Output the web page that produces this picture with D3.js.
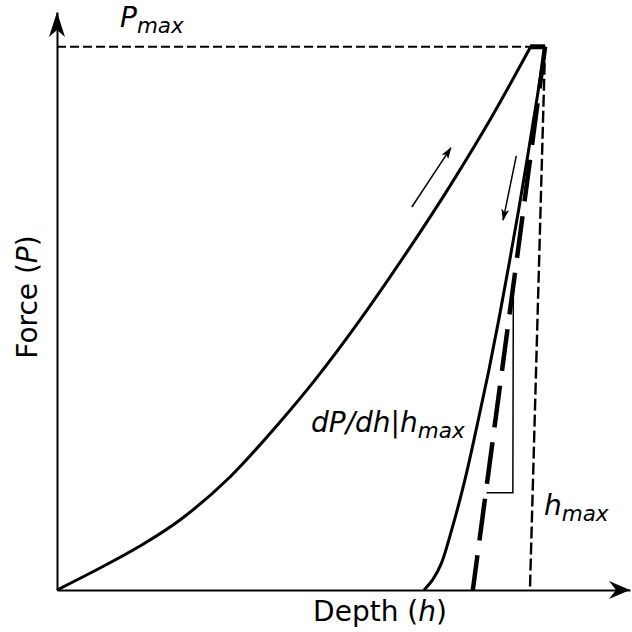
<!DOCTYPE html>
<html>
<head>
<meta charset="utf-8">
<script src="https://cdn.jsdelivr.net/npm/d3@7"></script>
<style>
  html, body { margin: 0; padding: 0; background: #fff; }
  svg { display: block; font-family: "DejaVu Sans", sans-serif; }
</style>
</head>
<body>
<svg id="chart" width="632" height="632"></svg>
<script>
// depth h and force P, both normalised so that hmax = 1 and Pmax = 1
const loadingDepth = [0, 0.0881, 0.1701, 0.2520, 0.3545, 0.4570, 0.5287, 0.6209, 0.7336, 0.8053, 0.8873, 0.9693];
const loadingForce = [0, 0.0405, 0.0810, 0.1289, 0.2081, 0.3094, 0.3867, 0.4972, 0.6446, 0.7440, 0.8656, 0.9982];
const holdDepth = [0.969, 1.0];
const holdForce = [1.0, 1.0];
const unloadingDepth = [1.0, 0.9826, 0.9645, 0.9459, 0.9262, 0.9057, 0.8838, 0.8600, 0.8350, 0.8053, 0.7879, 0.7705, 0.7520];
const unloadingForce = [1.0, 0.9, 0.8, 0.7, 0.6, 0.5, 0.4, 0.3, 0.2, 0.1, 0.05, 0.02, 0];
const tangentDepth = [1.0, 0.852];
const tangentForce = [1.0, 0];
const hmaxDepth = [1.0, 0.969];
const hmaxForce = [1.0, 0];
const pmaxDepth = [0, 1.0];
const pmaxForce = [1.0, 1.0];
const slopeDepth = [0.935, 0.934, 0.880];
const slopeForce = [0.562, 0.179, 0.179];
const loadArrowDepth = [0.727, 0.807];
const loadArrowForce = [0.705, 0.814];
const unloadArrowDepth = [0.941, 0.914];
const unloadArrowForce = [0.799, 0.681];

const svg = d3.select("#chart");
const x = d3.scaleLinear().domain([0, 1.174]).range([57, 630]);
const y = d3.scaleLinear().domain([0, 1.064]).range([590, 12]);

const line = d3.line().x((d) => x(d[0])).y((d) => y(d[1]));
const smooth = d3.line().x((d) => x(d[0])).y((d) => y(d[1])).curve(d3.curveCatmullRom.alpha(0.5));

svg.append("defs")
  .append("marker")
  .attr("id", "head")
  .attr("markerUnits", "userSpaceOnUse")
  .attr("viewBox", "0 0 12 8")
  .attr("markerWidth", 12)
  .attr("markerHeight", 8)
  .attr("refX", 11)
  .attr("refY", 4)
  .attr("orient", "auto")
  .append("path")
  .attr("d", "M0,0 L12,4 L0,8 L3,4 Z")
  .attr("fill", "#000");

// axes without ticks, arrowheads at the ends
const xAxis = svg.append("g").attr("transform", `translate(0,${y(0)})`)
  .call(d3.axisBottom(x).tickValues([]).tickSizeOuter(0));
const yAxis = svg.append("g").attr("transform", `translate(${x(0)},0)`)
  .call(d3.axisLeft(y).tickValues([]).tickSizeOuter(0));
[xAxis, yAxis].forEach((g) => g.select(".domain").attr("stroke", "#000").attr("stroke-width", 2));

const x1 = x.range()[1], y0 = y(0);
svg.append("path")
  .attr("d", `M${x1},${y0} L${x1 - 21},${y0 - 9} L${x1 - 14},${y0} L${x1 - 21},${y0 + 9} Z`)
  .attr("fill", "#000");
const yTop = y.range()[1], x0 = x(0);
svg.append("path")
  .attr("d", `M${x0},${yTop} L${x0 + 8},${yTop + 25} L${x0},${yTop + 18} L${x0 - 8},${yTop + 25} Z`)
  .attr("fill", "#000");

// reference lines
svg.append("path")
  .attr("d", line(d3.zip(pmaxDepth, pmaxForce)))
  .attr("fill", "none").attr("stroke", "#000").attr("stroke-width", 2.2)
  .attr("stroke-dasharray", "9,4");
svg.append("path")
  .attr("d", line(d3.zip(hmaxDepth, hmaxForce)))
  .attr("fill", "none").attr("stroke", "#000").attr("stroke-width", 2.4)
  .attr("stroke-dasharray", "12,4");
svg.append("path")
  .attr("d", line(d3.zip(tangentDepth, tangentForce)))
  .attr("fill", "none").attr("stroke", "#000").attr("stroke-width", 4.5)
  .attr("stroke-dasharray", "42,15");
svg.append("path")
  .attr("d", line(d3.zip(slopeDepth, slopeForce)))
  .attr("fill", "none").attr("stroke", "#000").attr("stroke-width", 1.5);

// loading, hold and unloading curves
svg.append("path")
  .attr("d", smooth(d3.zip(loadingDepth, loadingForce)))
  .attr("fill", "none").attr("stroke", "#000").attr("stroke-width", 3);
svg.append("path")
  .attr("d", line(d3.zip(holdDepth, holdForce)))
  .attr("fill", "none").attr("stroke", "#000").attr("stroke-width", 5);
svg.append("path")
  .attr("d", smooth(d3.zip(unloadingDepth, unloadingForce)))
  .attr("fill", "none").attr("stroke", "#000").attr("stroke-width", 3);

// direction arrows
[[loadArrowDepth, loadArrowForce], [unloadArrowDepth, unloadArrowForce]].forEach(([hs, ps]) => {
  svg.append("path")
    .attr("d", line(d3.zip(hs, ps)))
    .attr("fill", "none").attr("stroke", "#000").attr("stroke-width", 1.5)
    .attr("marker-end", "url(#head)");
});

// labels
const mainSize = 28, subSize = 21.5;
function label(px, py, parts) {
  const t = svg.append("text").attr("x", px).attr("y", py).attr("font-size", mainSize).attr("fill", "#000");
  parts.forEach((p) => {
    const s = t.append("tspan").text(p.text);
    if (p.italic) s.attr("font-style", "italic");
    if (p.sub) s.attr("font-size", subSize).attr("dy", 6);
  });
  return t;
}
label(120, 27, [{ text: "P", italic: true }, { text: "max", italic: true, sub: true }]);
label(311, 432, [{ text: "dP/dh|h", italic: true }, { text: "max", italic: true, sub: true }]);
label(544, 515, [{ text: "h", italic: true }, { text: "max", italic: true, sub: true }]);
label(380, 621, [{ text: "Depth (" }, { text: "h", italic: true }, { text: ")" }])
  .attr("text-anchor", "middle");
label(0, 0, [{ text: "Force (" }, { text: "P", italic: true }, { text: ")" }])
  .attr("text-anchor", "middle")
  .attr("transform", "translate(37,297) rotate(-90)");
</script>
</body>
</html>
